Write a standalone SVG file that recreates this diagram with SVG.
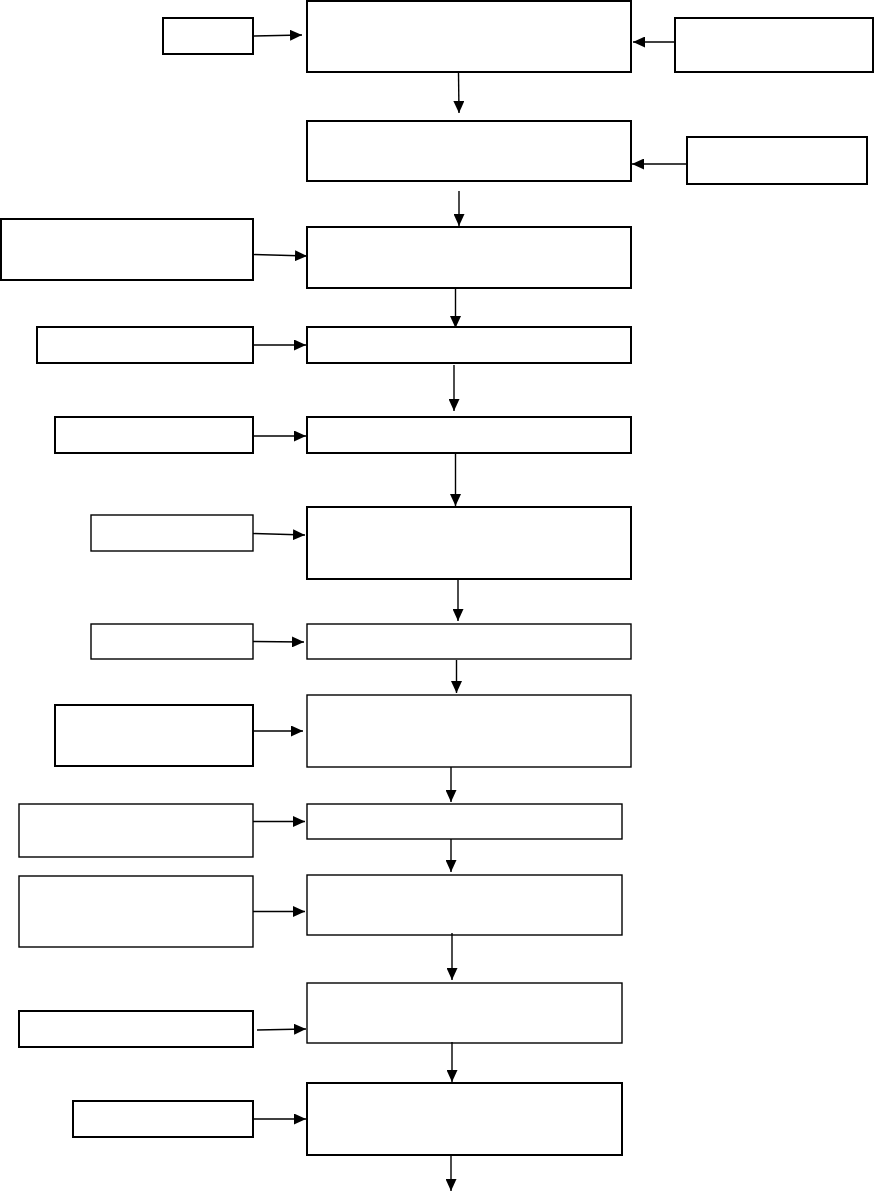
<svg xmlns="http://www.w3.org/2000/svg" width="874" height="1192" viewBox="0 0 874 1192">
<style>
.b{fill:#fff;stroke:#000;stroke-width:2}
.t{fill:#fff;stroke:#000;stroke-width:1.4}
.c{fill:none;stroke:#000;stroke-width:1.4;marker-end:url(#ah)}
</style>
<defs>
<marker id="ah" viewBox="0 0 12 11" refX="12" refY="5.5" markerWidth="12" markerHeight="11" orient="auto" markerUnits="userSpaceOnUse">
<path d="M0,0 L12,5.5 L0,11 z" fill="#000"/>
</marker>
</defs>
<rect width="874" height="1192" fill="#fff"/>
<g id="n1"><rect class="b" x="307" y="1" width="324" height="71"/></g>
<g id="n2"><rect class="b" x="307" y="121" width="324" height="60"/></g>
<g id="n3"><rect class="b" x="307" y="227" width="324" height="61"/></g>
<g id="n4"><rect class="b" x="307" y="327" width="324" height="36"/></g>
<g id="n5"><rect class="b" x="307" y="417" width="324" height="36"/></g>
<g id="n6"><rect class="b" x="307" y="507" width="324" height="72"/></g>
<g id="n7"><rect class="t" x="307" y="624" width="324" height="35"/></g>
<g id="n8"><rect class="t" x="307" y="695" width="324" height="72"/></g>
<g id="n9"><rect class="t" x="307" y="804" width="315" height="35"/></g>
<g id="n10"><rect class="t" x="307" y="875" width="315" height="60"/></g>
<g id="n11"><rect class="t" x="307" y="983" width="315" height="60"/></g>
<g id="n12"><rect class="b" x="307" y="1083" width="315" height="72"/></g>
<g id="s1"><rect class="b" x="163" y="18" width="90" height="36"/></g>
<g id="r1"><rect class="b" x="675" y="18" width="198" height="54"/></g>
<g id="r2"><rect class="b" x="687" y="137" width="180" height="47"/></g>
<g id="la"><rect class="b" x="1" y="219" width="252" height="61"/></g>
<g id="lb"><rect class="b" x="37" y="327" width="216" height="36"/></g>
<g id="lc"><rect class="b" x="55" y="417" width="198" height="36"/></g>
<g id="ld"><rect class="t" x="91" y="515" width="162" height="36"/></g>
<g id="le"><rect class="t" x="91" y="624" width="162" height="35"/></g>
<g id="lf"><rect class="b" x="55" y="705" width="198" height="61"/></g>
<g id="lg"><rect class="t" x="19" y="804" width="234" height="53"/></g>
<g id="lh"><rect class="t" x="19" y="876" width="234" height="71"/></g>
<g id="li"><rect class="b" x="19" y="1011" width="234" height="36"/></g>
<g id="lj"><rect class="b" x="73" y="1101" width="180" height="36"/></g>
<g id="connectors">
<line class="c" x1="253" y1="36" x2="302" y2="35"/>
<line class="c" x1="675" y1="42" x2="633" y2="42"/>
<line class="c" x1="458.5" y1="73" x2="459" y2="113"/>
<line class="c" x1="687" y1="164" x2="632" y2="164"/>
<line class="c" x1="459" y1="191" x2="459" y2="226"/>
<line class="c" x1="253" y1="254.5" x2="307" y2="256"/>
<line class="c" x1="455.5" y1="288" x2="455.5" y2="328"/>
<line class="c" x1="253" y1="345" x2="306" y2="345"/>
<line class="c" x1="454" y1="365" x2="454" y2="411"/>
<line class="c" x1="253" y1="436" x2="306" y2="436"/>
<line class="c" x1="455.5" y1="453" x2="455.5" y2="506"/>
<line class="c" x1="253" y1="533.5" x2="305" y2="535"/>
<line class="c" x1="458" y1="579" x2="458" y2="621"/>
<line class="c" x1="253" y1="641.5" x2="304" y2="642"/>
<line class="c" x1="456.5" y1="660" x2="456.5" y2="693"/>
<line class="c" x1="253" y1="731" x2="303" y2="731"/>
<line class="c" x1="451" y1="767" x2="451" y2="802"/>
<line class="c" x1="253" y1="821.5" x2="305" y2="821.5"/>
<line class="c" x1="451" y1="839" x2="451" y2="872"/>
<line class="c" x1="253" y1="911.5" x2="305" y2="911.5"/>
<line class="c" x1="452" y1="933" x2="452" y2="980"/>
<line class="c" x1="257" y1="1030" x2="306" y2="1029"/>
<line class="c" x1="452" y1="1042" x2="452" y2="1082"/>
<line class="c" x1="253" y1="1119" x2="306" y2="1119"/>
<line class="c" x1="451" y1="1155" x2="451" y2="1191"/>
</g>
</svg>
